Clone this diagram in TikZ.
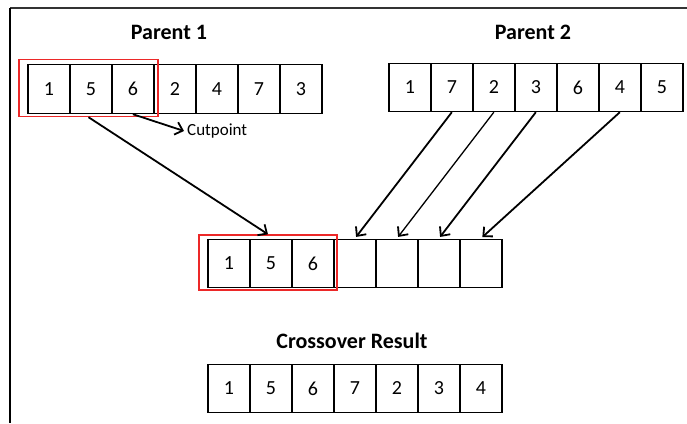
\documentclass[tikz,border=0pt]{standalone}
\usepackage{fontspec}
\setmainfont{Carlito}
\usetikzlibrary{arrows.meta}
\definecolor{cutred}{RGB}{236,40,40}
\begin{document}
\begin{tikzpicture}[x=1pt,y=-1pt,
  cell/.style={draw, line width=1.7pt, minimum width=42pt, minimum height=48pt,
    inner sep=0pt, anchor=north west, font=\fontsize{20}{22}\selectfont},
  title/.style={font=\fontsize{22}{24}\selectfont\bfseries},
  cutbox/.style={draw=cutred, line width=1.4pt, inner sep=0pt},
  link/.style={line width=1.8pt, -{Straight Barb[length=7pt,width=13pt,line width=1.8pt]}},
]
\useasboundingbox (0,0) rectangle (687,423);

% frame
\draw[line width=1.2pt, black!80] (10,8) -- (687,8);
\draw[line width=2.6pt] (10,8) -- (10,423);

% titles
\node[title] (t1) at (169,32) {Parent 1};
\node[title] (t2) at (533,32) {Parent 2};
\node[title] (t3) at (352,341) {Crossover Result};

% parent 1
\foreach \v [count=\i] in {1,5,6,2,4,7,3}
  \node[cell, minimum height=49pt] (a\i) at ({27+42*(\i-1)},63.5) {\v};
% parent 2
\foreach \v [count=\i] in {1,7,2,3,6,4,5}
  \node[cell] (b\i) at ({388+42*(\i-1)},62.5) {\v};
% partial child
\foreach \v [count=\i] in {1,5,6,{},{},{},{}}
  \node[cell] (c\i) at ({207+42*(\i-1)},238.5) {\v};
% result
\foreach \v [count=\i] in {1,5,6,7,2,3,4}
  \node[cell] (d\i) at ({207+42*(\i-1)},363.5) {\v};

% cut segments
\node[cutbox, minimum width=139pt, minimum height=57pt] (r1) at (88.5,88) {};
\node[cutbox, minimum width=138pt, minimum height=55pt] (r2) at (268,262.5) {};

% cutpoint marker
\node[anchor=west, inner sep=3pt, font=\fontsize{17}{18}\selectfont] (cp) at (184,131) {Cutpoint};
\draw[link] (a3.south) -- (cp.west);

% copied segment
\draw[link] (r1.south) -- (r2.north);

% remaining genes from parent 2
\draw[link, shorten >=2pt] (b2.south) -- (c4.north);
\draw[link, line width=1.3pt, shorten >=2pt] (b3.south) -- (c5.north);
\draw[link, shorten >=2pt] (b4.south) -- (c6.north);
\draw[link, shorten >=2pt] (b6.south) -- (c7.north);
\end{tikzpicture}
\end{document}
